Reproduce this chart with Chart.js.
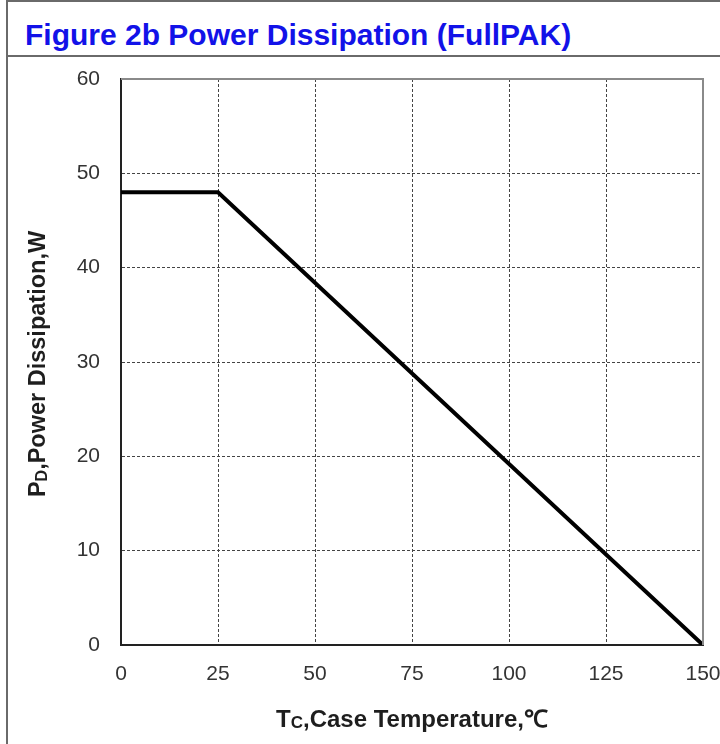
<!DOCTYPE html>
<html>
<head>
<meta charset="utf-8">
<script src="https://cdn.jsdelivr.net/npm/chart.js@4.4.0/dist/chart.umd.min.js"></script>
<style>
  html, body { margin: 0; padding: 0; background: #fff; }
  #wrap { position: relative; width: 720px; height: 744px; overflow: hidden; }
  .hline { position: absolute; left: 6px; right: 0; height: 2px; background: #6a6a6a; }
  .vline { position: absolute; left: 6px; top: 0; bottom: 0; width: 2px; background: #6a6a6a; }
  #title { position: absolute; left: 25px; top: 18px; line-height: 30px; white-space: nowrap;
           font: bold 30px "Liberation Sans", Arial, sans-serif; color: #1212e8; }
  canvas { position: absolute; left: 0; top: 0; }
</style>
</head>
<body>
<div id="wrap">
  <div class="hline" style="top:0px"></div>
  <div class="hline" style="top:55px"></div>
  <div class="vline"></div>
  <div id="title"></div>
  <canvas id="canvas1" width="720" height="744"></canvas>
</div>
<script>
// data
const tempC = [0, 25, 150];
const powerW = [48, 48, 0];
const xRange = [0, 150];
const yRange = [0, 60];
const xStep = 25;
const yStep = 10;
const titleText = 'Figure 2b Power Dissipation (FullPAK)';
const xTitleParts = [['T', false], ['C', true], [',Case Temperature,\u2103', false]];
const yTitleParts = [['P', false], ['D', true], [',Power Dissipation,W', false]];

document.getElementById('title').textContent = titleText;

const FONT = '"Liberation Sans", Arial, sans-serif';

// draws text with subscript pieces, centered on (0,0)
function drawParts(ctx, parts, size) {
  const mainFont = 'bold ' + size + 'px ' + FONT;
  const subFont = 'bold ' + Math.round(size * 0.7) + 'px ' + FONT;
  let total = 0;
  parts.forEach(p => {
    ctx.font = p[1] ? subFont : mainFont;
    total += ctx.measureText(p[0]).width;
  });
  let x = -total / 2;
  ctx.textAlign = 'left';
  ctx.textBaseline = 'alphabetic';
  parts.forEach(p => {
    ctx.font = p[1] ? subFont : mainFont;
    ctx.fillText(p[0], x, p[1] ? size * 0.42 : size * 0.36);
    x += ctx.measureText(p[0]).width;
  });
}

const framePlugin = {
  id: 'frame',
  afterDraw(chart) {
    const ctx = chart.ctx;
    const a = chart.chartArea;
    ctx.save();
    // top and right edges of the plot box
    ctx.strokeStyle = '#8a8a8a';
    ctx.lineWidth = 2;
    ctx.beginPath();
    ctx.moveTo(a.left, a.top);
    ctx.lineTo(a.right, a.top);
    ctx.lineTo(a.right, a.bottom);
    ctx.stroke();
    // axis titles
    ctx.fillStyle = '#1e1e1e';
    ctx.translate((a.left + a.right) / 2, 718);
    drawParts(ctx, xTitleParts, 24);
    ctx.restore();
    ctx.save();
    ctx.fillStyle = '#1e1e1e';
    ctx.translate(37, (a.top + a.bottom) / 2 + 2);
    ctx.rotate(-Math.PI / 2);
    drawParts(ctx, yTitleParts, 23.5);
    ctx.restore();
  }
};

const canvas = document.getElementById('canvas1');
var ctx = canvas.getContext('2d');

const data = {
  datasets: [{
    data: tempC.map((t, i) => ({ x: t, y: powerW[i] })),
    borderColor: '#000',
    borderWidth: 4,
    pointRadius: 0,
    tension: 0,
    fill: false
  }]
};

const tickFont = { family: FONT, size: 21 };

const options = {
  responsive: false,
  animation: false,
  layout: { padding: { top: 79, right: 17, left: 0, bottom: 0 } },
  plugins: { legend: { display: false }, tooltip: { enabled: false } },
  scales: {
    x: {
      type: 'linear',
      min: xRange[0],
      max: xRange[1],
      ticks: { stepSize: xStep, color: '#333', font: tickFont, padding: 17, maxRotation: 0, autoSkip: false },
      grid: { color: '#444', lineWidth: 1, drawTicks: false },
      border: { color: '#222', width: 2, dash: [3, 2] },
      afterFit(scale) {
        scale.height = 99;
        scale.paddingLeft = 0;
        scale.paddingRight = 0;
      }
    },
    y: {
      min: yRange[0],
      max: yRange[1],
      ticks: { stepSize: yStep, color: '#333', font: tickFont, padding: 21 },
      grid: { color: '#444', lineWidth: 1, drawTicks: false },
      border: { color: '#222', width: 2, dash: [3, 2] },
      afterFit(scale) {
        scale.width = 121;
        scale.paddingTop = 0;
        scale.paddingBottom = 0;
      }
    }
  }
};

var myChart = new Chart(ctx, { type: 'line', data: data, options: options, plugins: [framePlugin] });
</script>
</body>
</html>
